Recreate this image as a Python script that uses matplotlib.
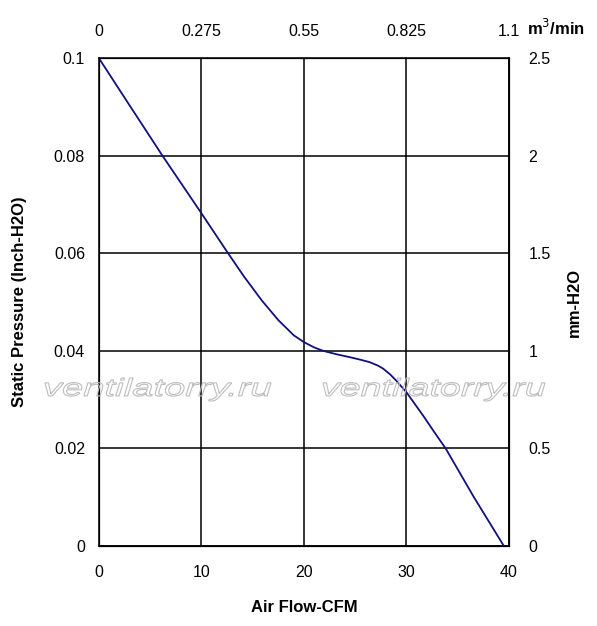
import numpy as np
import matplotlib
matplotlib.use("Agg")
import matplotlib.pyplot as plt
from matplotlib.textpath import TextPath
from matplotlib.patches import PathPatch
from matplotlib.font_manager import FontProperties
from matplotlib.transforms import Affine2D, IdentityTransform

plt.rcParams['font.family'] = ['Liberation Sans', 'DejaVu Sans']

# curve (CFM, inch-H2O)
flow_cfm = [0, 3.0, 6.2, 10.0, 12.6, 14.2, 15.9, 17.5, 19.0, 20.0, 21.0,
            21.9, 23.2, 24.5, 25.5, 26.4, 27.2, 27.7, 28.4, 29.0, 30.0,
            31.6, 32.6, 33.85, 36.55, 39.5]
pressure_inch = [0.100, 0.0903, 0.080, 0.0682, 0.0600, 0.0551, 0.0503, 0.0463,
                 0.0432, 0.0418, 0.0407, 0.0400, 0.0393, 0.0387, 0.0382,
                 0.0377, 0.0370, 0.0364, 0.0352, 0.0339, 0.0315, 0.0268,
                 0.0237, 0.0199, 0.0101, 0.0]

x_ticks = [0, 10, 20, 30, 40]
y_ticks = [0, 0.02, 0.04, 0.06, 0.08, 0.1]
top_ticks = [0, 0.275, 0.55, 0.825, 1.1]
right_ticks = [0, 0.5, 1, 1.5, 2, 2.5]

W, H = 597, 626
fig = plt.figure(figsize=(W / 100, H / 100), dpi=100)
ax = fig.add_axes([0.1658, 0.1278, 0.6868, 0.7791])

ax.plot(flow_cfm, pressure_inch, color="#10107f", lw=1.3, zorder=3)
ax.set_xlim(0, 40)
ax.set_ylim(0, 0.1)
ax.set_xticks(x_ticks)
ax.set_xticklabels([str(t) for t in x_ticks])
ax.set_yticks(y_ticks)
ax.set_yticklabels(["0", "0.02", "0.04", "0.06", "0.08", "0.1"])
ax.grid(True, color="black", lw=1.1)
ax.tick_params(axis="x", length=0, pad=14, labelsize=11.5)
ax.tick_params(axis="y", length=0, pad=10, labelsize=11.5)
for s in ax.spines.values():
    s.set_linewidth(1.1)
ax.set_xlabel("Air Flow-CFM", fontsize=12, fontweight="bold", labelpad=14)
ax.set_ylabel("Static Pressure (Inch-H2O)", fontsize=12, fontweight="bold", labelpad=19)

# right axis, mm-H2O
axr = ax.twinx()
axr.set_ylim(0, 2.5)
axr.set_yticks(right_ticks)
axr.set_yticklabels(["0", "0.5", "1", "1.5", "2", "2.5"])
axr.tick_params(axis="y", length=0, pad=14, labelsize=11.5)
axr.set_ylabel("mm-H2O", fontsize=12, fontweight="bold", labelpad=12)

# top axis, m3/min
axt = ax.twiny()
axt.set_xlim(0, 1.1)
axt.set_xticks(top_ticks)
axt.set_xticklabels(["0", "0.275", "0.55", "0.825", "1.1"])
axt.tick_params(axis="x", length=0, pad=14, labelsize=11.5)
fig.text(0.932, 0.955, r"m$^{3}$/min", fontsize=12, fontweight="bold",
         ha="center", va="center")

# watermark: stretched hollow italic text, boxes in pixels (left, right, top, bottom)
wm_boxes = [(45, 271, 378, 401), (323, 545, 378, 401)]
fp = FontProperties(family="Liberation Sans", style="italic")
tp = TextPath((0, 0), "ventilatorry.ru", size=1, prop=fp)
ext = tp.get_extents()
for x0, x1, y0, y1 in wm_boxes:
    sx = (x1 - x0) / ext.width
    sy = (y1 - y0) / ext.height
    tr = Affine2D().translate(-ext.x0, -ext.y0).scale(sx, sy).translate(x0, H - y1)
    patch = PathPatch(tr.transform_path(tp), facecolor="none", edgecolor="#bdbdbd",
                      lw=0.8, transform=IdentityTransform(), zorder=1,
                      clip_on=False)
    fig.add_artist(patch)

fig.savefig("out.png", dpi=100)
